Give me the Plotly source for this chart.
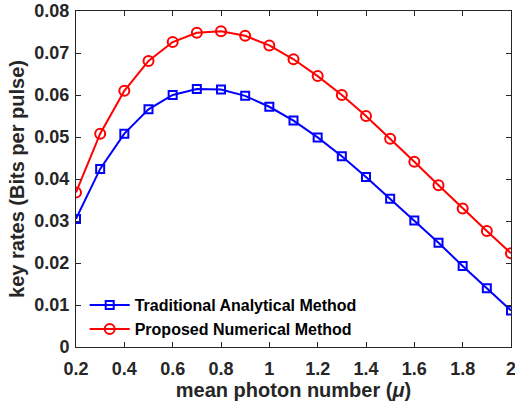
import plotly.graph_objects as go

mu = [0.2, 0.3, 0.4, 0.5, 0.6, 0.7, 0.8, 0.9, 1.0, 1.1, 1.2, 1.3, 1.4, 1.5, 1.6, 1.7, 1.8, 1.9, 2.0]
traditional = [0.0305, 0.0424, 0.0508, 0.0566, 0.0600, 0.0614, 0.0613, 0.0598, 0.0572, 0.0539,
               0.0499, 0.0454, 0.0405, 0.0353, 0.0301, 0.0248, 0.0193, 0.0140, 0.0087]
proposed = [0.0368, 0.0508, 0.0610, 0.0681, 0.0726, 0.0748, 0.0752, 0.0741, 0.0718, 0.0685,
            0.0645, 0.0600, 0.0550, 0.0496, 0.0441, 0.0385, 0.0330, 0.0276, 0.0223]

x_ticks = [0.2, 0.4, 0.6, 0.8, 1, 1.2, 1.4, 1.6, 1.8, 2]
x_labels = ["0.2", "0.4", "0.6", "0.8", "1", "1.2", "1.4", "1.6", "1.8", "2"]
y_ticks = [0, 0.01, 0.02, 0.03, 0.04, 0.05, 0.06, 0.07, 0.08]
y_labels = ["0", "0.01", "0.02", "0.03", "0.04", "0.05", "0.06", "0.07", "0.08"]

fig = go.Figure()
fig.add_trace(go.Scatter(x=mu, y=traditional, mode="lines+markers",
                         name="<b>Traditional Analytical Method</b>",
                         line=dict(color="#0000ff", width=2),
                         marker=dict(symbol="square-open", size=8, color="#0000ff", line=dict(width=2))))
fig.add_trace(go.Scatter(x=mu, y=proposed, mode="lines+markers",
                         name="<b>Proposed Numerical Method</b>",
                         line=dict(color="#ff0000", width=2),
                         marker=dict(symbol="circle-open", size=10, color="#ff0000", line=dict(width=2))))

axis_color = "#262626"
fig.update_layout(
    width=515, height=403,
    margin=dict(l=76, r=4, t=11, b=56),
    paper_bgcolor="white", plot_bgcolor="white",
    font=dict(family="Liberation Sans, Arial, sans-serif", color=axis_color, size=18),
    showlegend=True,
    legend=dict(x=0.02, y=0.175, xanchor="left", yanchor="top",
                bgcolor="rgba(255,255,255,0)", borderwidth=0,
                font=dict(size=16, color="black", family="Liberation Sans, Arial, sans-serif"),
                tracegroupgap=0, itemwidth=40),
    xaxis=dict(range=[0.2, 2], tickvals=x_ticks, ticktext=[f"<b>{t}</b>" for t in x_labels],
               ticks="inside", ticklen=5, tickcolor=axis_color, showline=True, linecolor=axis_color,
               linewidth=1, mirror="ticks", showgrid=False, zeroline=False, automargin=False,
               ticklabeloverflow="allow", ticklabelstandoff=5,
               title=dict(text="<b>mean photon number (<i>μ</i>)</b>", font=dict(size=20), standoff=4)),
    yaxis=dict(range=[0, 0.08], tickvals=y_ticks, ticktext=[f"<b>{t}</b>" for t in y_labels],
               ticks="inside", ticklen=5, tickcolor=axis_color, showline=True, linecolor=axis_color,
               linewidth=1, mirror="ticks", showgrid=False, zeroline=False, automargin=False,
               ticklabelstandoff=2,
               title=dict(text="<b>key rates (Bits per pulse)</b>", font=dict(size=20), standoff=4)),
)

fig.write_html("out.html", config={"displayModeBar": False},
               post_script="document.body.style.margin='0';document.body.style.padding='0';")
